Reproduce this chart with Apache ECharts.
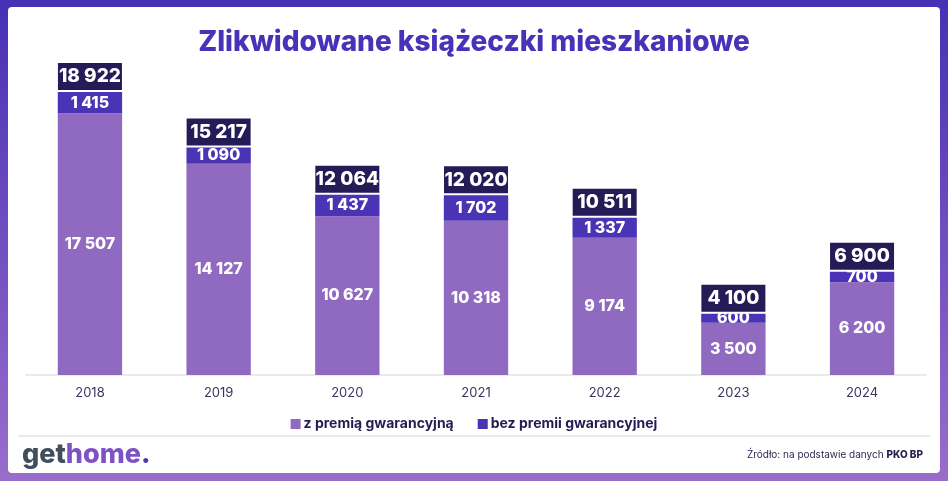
<!DOCTYPE html>
<html>
<head>
<meta charset="utf-8">
<script src="https://cdn.jsdelivr.net/npm/echarts@6/dist/echarts.min.js"></script>
<style>
html,body{margin:0;padding:0;}
#c{width:948px;height:481px;}
</style>
</head>
<body>
<div id="c"></div>
<script>
const categories = ['2018','2019','2020','2021','2022','2023','2024'];
const withPremium = [17507, 14127, 10627, 10318, 9174, 3500, 6200];
const withoutPremium = [1415, 1090, 1437, 1702, 1337, 600, 700];
const totals = [18922, 15217, 12064, 12020, 10511, 4100, 6900];
const seriesNames = ['z premią gwarancyjną', 'bez premii gwarancyjnej'];

const FONT = 'Inter, "Noto Sans", sans-serif';
const fmt = v => String(v).replace(/\B(?=(\d{3})+(?!\d))/g, ' ');

const chart = echarts.init(document.getElementById('c'));
chart.setOption({
  animation: false,
  textStyle: { fontFamily: FONT },
  graphic: [
    { type: 'rect', z: -100, shape: { x: 0, y: 0, width: 948, height: 481 },
      style: { fill: new echarts.graphic.LinearGradient(0, 0, 0, 1, [
        { offset: 0, color: '#4630b4' }, { offset: 1, color: '#9a6dcb' }]) } },
    { type: 'rect', z: -99, shape: { x: 8, y: 7, width: 932, height: 466, r: 4 },
      style: { fill: '#ffffff' } },
    { type: 'line', z: -98, shape: { x1: 18, y1: 436, x2: 930, y2: 436 },
      style: { stroke: '#e3e3e6', lineWidth: 1.5 } },
    { type: 'text', z: 10, left: 22, top: 441,
      style: { text: '{a|get}{b|home}{c|.}', rich: {
        a: { fill: '#3e4e5b', fontSize: 27, fontWeight: 800, fontFamily: FONT },
        b: { fill: '#7e52c5', fontSize: 27, fontWeight: 800, fontFamily: FONT },
        c: { fill: '#5233b6', fontSize: 27, fontWeight: 800, fontFamily: FONT } } } },
    { type: 'text', z: 10, right: 25, top: 450,
      style: { text: '{n|Źródło: na podstawie danych }{b|PKO BP}', rich: {
        n: { fill: '#2e2a50', fontSize: 10, fontFamily: FONT },
        b: { fill: '#231d52', fontSize: 10, fontWeight: 800, fontFamily: FONT } } } }
  ],
  title: {
    text: 'Zlikwidowane książeczki mieszkaniowe',
    left: 'center', top: 24,
    textStyle: { color: '#4a32b8', fontSize: 28, fontWeight: 800, fontFamily: FONT }
  },
  legend: {
    data: seriesNames,
    left: 'center', top: 412,
    icon: 'rect', itemWidth: 10, itemHeight: 10, itemGap: 24,
    textStyle: { color: '#231d52', fontSize: 14, fontWeight: 700, fontFamily: FONT, padding: [0, 0, 0, -2] }
  },
  grid: { left: 25.6, right: 21.6, top: 76, bottom: 106 },
  xAxis: {
    type: 'category', data: categories,
    axisTick: { show: false },
    axisLine: { lineStyle: { color: '#e4e4e8', width: 1.5 } },
    axisLabel: { color: '#3a3560', fontSize: 13, margin: 12, fontFamily: FONT }
  },
  yAxis: { type: 'value', show: false, min: 0, max: 20000, splitLine: { show: false } },
  series: [
    { name: seriesNames[0], type: 'bar', stack: 's', barWidth: '50%', data: withPremium,
      itemStyle: { color: '#9069c1' },
      label: { show: true, position: 'inside', color: '#fff', fontSize: 16, fontWeight: 800,
        fontFamily: FONT, formatter: p => fmt(p.value) } },
    { name: seriesNames[1], type: 'bar', stack: 's', barWidth: '50%', data: withoutPremium,
      itemStyle: { color: '#4b33b6' },
      label: { show: true, position: 'inside', color: '#fff', fontSize: 16, fontWeight: 800,
        fontFamily: FONT, formatter: p => fmt(p.value) } },
    { name: 'total', type: 'scatter', data: totals, symbolSize: 0, silent: true,
      itemStyle: { opacity: 1 },
      label: { show: true, position: 'top', distance: 2, color: '#fff', fontSize: 19, fontWeight: 800,
        fontFamily: FONT, backgroundColor: '#231c56', width: 64, align: 'center', opacity: 1,
        padding: [4, 0, 4, 0], lineHeight: 19, formatter: p => fmt(p.value) } }
  ]
});
</script>
</body>
</html>
